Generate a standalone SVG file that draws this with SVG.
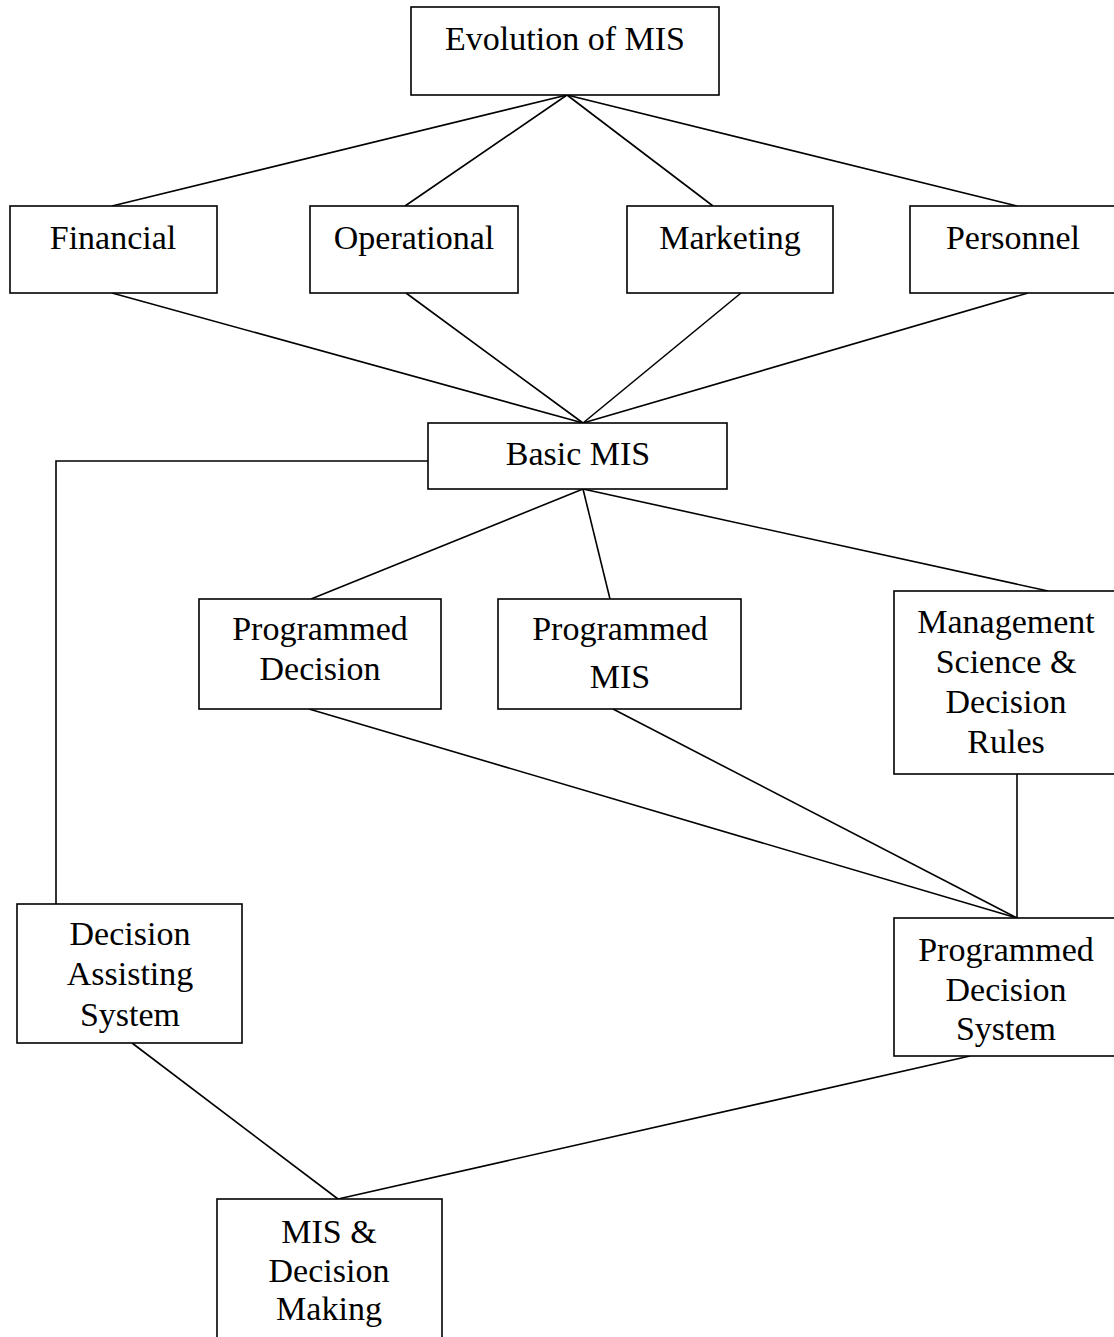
<svg xmlns="http://www.w3.org/2000/svg" width="1114" height="1337" viewBox="0 0 1114 1337">
<style>
.box{fill:#fff;stroke:#000;stroke-width:1.6}
.lbl{font-family:"Liberation Serif","Times New Roman",serif;font-size:34px;fill:#000;text-anchor:middle}
.con line,.con polyline{stroke:#000;stroke-width:1.6;fill:none}
</style>
<rect width="1114" height="1337" fill="#fff"/>
<g class="con" id="connectors">
<line x1="567" y1="95" x2="112" y2="206"/>
<line x1="567" y1="95" x2="405" y2="206"/>
<line x1="567" y1="95" x2="713" y2="206"/>
<line x1="567" y1="95" x2="1017" y2="206"/>
<line x1="112" y1="293" x2="583" y2="423"/>
<line x1="406" y1="293" x2="583" y2="423"/>
<line x1="741" y1="293" x2="583" y2="423"/>
<line x1="1028" y1="293" x2="583" y2="423"/>
<line x1="583" y1="489" x2="311" y2="599"/>
<line x1="583" y1="489" x2="610" y2="599"/>
<line x1="583" y1="489" x2="1048" y2="591"/>
<polyline points="428,461 56,461 56,904"/>
<line x1="309" y1="709" x2="1017" y2="918"/>
<line x1="613" y1="709" x2="1017" y2="918"/>
<line x1="1017" y1="774" x2="1017" y2="918"/>
<line x1="132" y1="1043" x2="338" y2="1199"/>
<line x1="970" y1="1056" x2="338" y2="1199"/>
</g>
<g id="evolution"><rect class="box" x="411" y="7" width="308" height="88"/><text class="lbl" x="565" y="50">Evolution of MIS</text></g>
<g id="financial"><rect class="box" x="10" y="206" width="207" height="87"/><text class="lbl" x="113" y="249">Financial</text></g>
<g id="operational"><rect class="box" x="310" y="206" width="208" height="87"/><text class="lbl" x="414" y="249">Operational</text></g>
<g id="marketing"><rect class="box" x="627" y="206" width="206" height="87"/><text class="lbl" x="730" y="249">Marketing</text></g>
<g id="personnel"><rect class="box" x="910" y="206" width="206" height="87"/><text class="lbl" x="1013" y="249">Personnel</text></g>
<g id="basic-mis"><rect class="box" x="428" y="423" width="299" height="66"/><text class="lbl" x="578" y="465">Basic MIS</text></g>
<g id="programmed-decision"><rect class="box" x="199" y="599" width="242" height="110"/><text class="lbl" x="320" y="640">Programmed</text><text class="lbl" x="320" y="680">Decision</text></g>
<g id="programmed-mis"><rect class="box" x="498" y="599" width="243" height="110"/><text class="lbl" x="620" y="640">Programmed</text><text class="lbl" x="620" y="688">MIS</text></g>
<g id="mgmt-science"><rect class="box" x="894" y="591" width="224" height="183"/><text class="lbl" x="1006" y="633">Management</text><text class="lbl" x="1006" y="673">Science &amp;</text><text class="lbl" x="1006" y="713">Decision</text><text class="lbl" x="1006" y="753">Rules</text></g>
<g id="decision-assisting"><rect class="box" x="17" y="904" width="225" height="139"/><text class="lbl" x="130" y="945">Decision</text><text class="lbl" x="130" y="985">Assisting</text><text class="lbl" x="130" y="1026">System</text></g>
<g id="programmed-decision-system"><rect class="box" x="894" y="918" width="224" height="138"/><text class="lbl" x="1006" y="961">Programmed</text><text class="lbl" x="1006" y="1001">Decision</text><text class="lbl" x="1006" y="1040">System</text></g>
<g id="mis-decision-making"><rect class="box" x="217" y="1199" width="225" height="145"/><text class="lbl" x="329" y="1243">MIS &amp;</text><text class="lbl" x="329" y="1282">Decision</text><text class="lbl" x="329" y="1320">Making</text></g>
</svg>
